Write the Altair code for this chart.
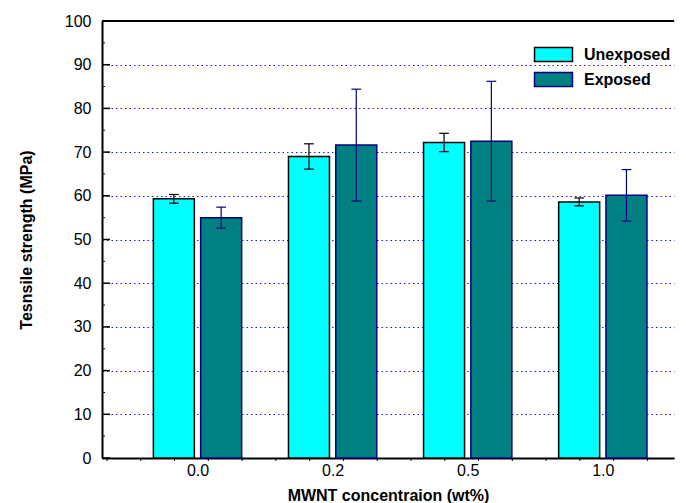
import json
import altair as alt
import pandas as pd

# ---- data ----
categories = ["0.0", "0.2", "0.5", "1.0"]
series_names = ["Unexposed", "Exposed"]
unexposed = [59.3, 69.0, 72.2, 58.6]
unexposed_err = [1.0, 2.9, 2.1, 0.9]
exposed = [55.0, 71.6, 72.5, 60.1]
exposed_err = [2.4, 12.8, 13.7, 5.9]
y_major = [0, 10, 20, 30, 40, 50, 60, 70, 80, 90, 100]
y_minor = [5, 15, 25, 35, 45, 55, 65, 75, 85, 95]

rows = []
for i, c in enumerate(categories):
    rows.append(dict(idx=i, cat=c, series="Unexposed", value=unexposed[i], err=unexposed_err[i]))
    rows.append(dict(idx=i, cat=c, series="Exposed", value=exposed[i], err=exposed_err[i]))
df = pd.DataFrame(rows)

XMIN, XMAX = -0.67, 3.49
W, H = 572, 437
FONT = "Liberation Sans"
XTITLE = "MWNT concentraion (wt%)"
YTITLE = "Tesnsile strength (MPa)"

x_minor = []
k = 0
while XMIN + 0.25 * k <= XMAX:
    x_minor.append(round(XMIN + 0.25 * k, 4))
    k += 1

xscale = alt.Scale(domain=[XMIN, XMAX], nice=False, zero=False)
yscale = alt.Scale(domain=[0, 100], nice=False)
fill_scale = alt.Scale(domain=series_names, range=["#00FFFF", "#008080"])
stroke_scale = alt.Scale(domain=series_names, range=["#000000", "#000080"])

off = "(datum.series == 'Unexposed' ? -0.175 : 0.175)"
base = alt.Chart(df).transform_calculate(
    xpos=f"datum.idx + {off}",
    lo="datum.value - datum.err",
    hi="datum.value + datum.err",
    cl=f"datum.idx + {off} - 0.036",
    cr=f"datum.idx + {off} + 0.036",
)

x_axis = alt.Axis(
    values=[0, 1, 2, 3],
    labelExpr=f"{json.dumps(categories)}[datum.value]",
    tickSize=0, ticks=False, grid=False,
    labelFontSize=16, labelPadding=4, labelColor="black", labelFont=FONT,
    domainColor="black", domainWidth=2,
    titleFontSize=16, titleFontWeight="bold", titleFont=FONT, titleColor="black",
    titlePadding=9,
)
y_axis = alt.Axis(
    values=y_major, tickSize=0, ticks=False,
    labelFontSize=16, labelPadding=11, labelColor="black", labelFont=FONT,
    domainColor="black", domainWidth=2,
    grid=True, gridColor="#0000FF", gridDash=[1.5, 3], gridWidth=1, gridOpacity=0.9,
    titleFontSize=16, titleFontWeight="bold", titleFont=FONT, titleColor="black",
    titlePadding=30,
)

leg = alt.Legend(
    title=None, orient="none", legendX=438, legendY=20,
    symbolType="M-1.5,-0.55L1.5,-0.55L1.5,0.55L-1.5,0.55Z", symbolSize=640,
    symbolStrokeWidth=1.5, symbolOpacity=1,
    labelFontSize=16, labelFontWeight="bold", labelFont=FONT, labelColor="black",
    labelOffset=17, rowPadding=1, padding=0,
)

bars = base.mark_bar(width=41, strokeWidth=1.5, opacity=1).encode(
    x=alt.X("xpos:Q", scale=xscale, axis=x_axis, title=XTITLE),
    y=alt.Y("value:Q", scale=yscale, axis=y_axis, title=YTITLE),
    fill=alt.Fill("series:N", scale=fill_scale, legend=leg, sort=series_names),
    stroke=alt.Stroke("series:N", scale=stroke_scale, legend=leg, sort=series_names),
)

err_v = base.mark_rule(strokeWidth=1.2).encode(
    x=alt.X("xpos:Q", title=XTITLE),
    y=alt.Y("lo:Q", title=YTITLE), y2="hi:Q",
    stroke=alt.Stroke("series:N"),
)
cap_top = base.mark_rule(strokeWidth=1.2).encode(
    x=alt.X("cl:Q", title=XTITLE), x2="cr:Q",
    y=alt.Y("hi:Q", title=YTITLE),
    stroke=alt.Stroke("series:N"),
)
cap_bot = base.mark_rule(strokeWidth=1.2).encode(
    x=alt.X("cl:Q", title=XTITLE), x2="cr:Q",
    y=alt.Y("lo:Q", title=YTITLE),
    stroke=alt.Stroke("series:N"),
)

top_rule = alt.Chart(pd.DataFrame({"t": [y_major[-1]]})).mark_rule(
    color="black", strokeWidth=2
).encode(y=alt.Y("t:Q", title=YTITLE))

yt_major = alt.Chart(pd.DataFrame({"t": y_major})).mark_rule(
    color="black", strokeWidth=1.5
).encode(y=alt.Y("t:Q", title=YTITLE), x=alt.value(0), x2=alt.value(8))
yt_minor = alt.Chart(pd.DataFrame({"t": y_minor})).mark_rule(
    color="black", strokeWidth=1
).encode(y=alt.Y("t:Q", title=YTITLE), x=alt.value(0), x2=alt.value(3))
xt_minor = alt.Chart(pd.DataFrame({"t": x_minor})).mark_rule(
    color="black", strokeWidth=1
).encode(x=alt.X("t:Q", title=XTITLE), y=alt.value(H), y2=alt.value(H + 3))

chart = alt.layer(
    bars, err_v, cap_top, cap_bot, top_rule, yt_major, yt_minor, xt_minor
).properties(
    width=W, height=H,
    padding={"left": 10, "top": 5, "right": 2, "bottom": 0},
    background="white",
).configure_view(stroke=None)

chart.save("out.html", embed_options={"renderer": "svg", "actions": False})
